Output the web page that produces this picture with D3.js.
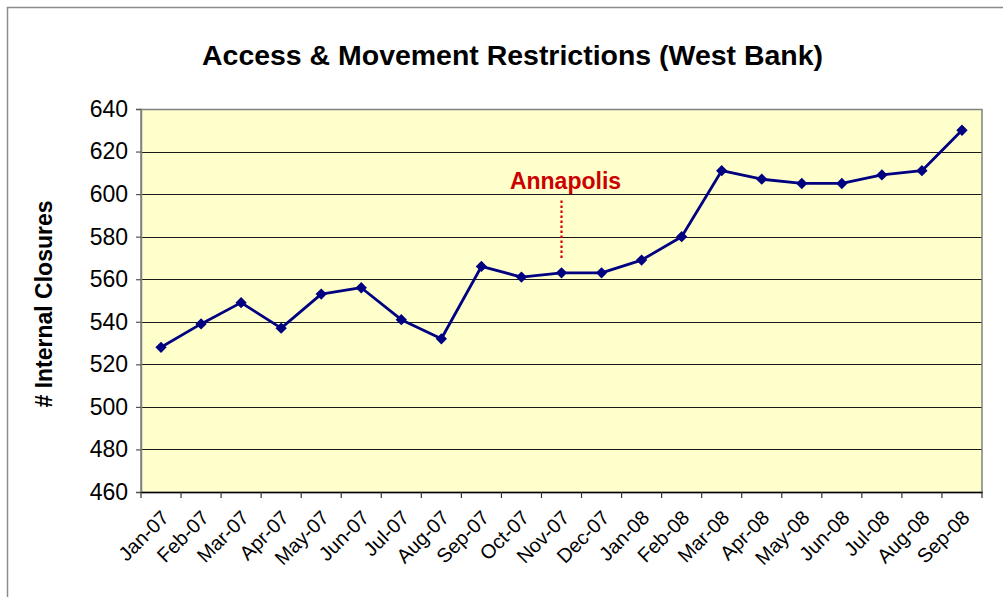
<!DOCTYPE html>
<html>
<head>
<meta charset="utf-8">
<script src="https://cdn.jsdelivr.net/npm/d3@7"></script>
<style>
  html, body { margin: 0; padding: 0; background: #fff; }
  svg { display: block; font-family: "Liberation Sans", Arial, sans-serif; }
</style>
</head>
<body>
<svg id="chart" width="1003" height="597"></svg>
<script>
const months = ["Jan-07","Feb-07","Mar-07","Apr-07","May-07","Jun-07","Jul-07","Aug-07","Sep-07","Oct-07","Nov-07","Dec-07","Jan-08","Feb-08","Mar-08","Apr-08","May-08","Jun-08","Jul-08","Aug-08","Sep-08"];
const closures = [528,539,549,537,553,556,541,532,566,561,563,563,569,580,611,607,605,605,609,611,630];
const yTicks = [460,480,500,520,540,560,580,600,620,640];
const annotationMonth = ["Nov-07"];
const annotationLabel = ["Annapolis"];
const annotationRange = [570, 597];
const annotationTextValue = [602.5];

const svg = d3.select("#chart");
const plot = {left: 141, right: 982, top: 109, bottom: 492};

// outer chart frame
svg.append("rect").attr("x", 7.5).attr("y", 7.5).attr("width", 1010).attr("height", 610)
  .attr("fill", "#fff").attr("stroke", "#8c8c8c").attr("stroke-width", 1.5);

const x = d3.scaleBand().domain(months).range([plot.left, plot.right]).paddingInner(0).paddingOuter(0);
const y = d3.scaleLinear().domain([460, 640]).range([plot.bottom, plot.top]);

// plot background
svg.append("rect").attr("x", plot.left).attr("y", plot.top)
  .attr("width", plot.right - plot.left).attr("height", plot.bottom - plot.top)
  .attr("fill", "#FFFFCC");

// gridlines
svg.append("g").selectAll("line").data(yTicks.filter(d => d > 460 && d < 640)).join("line")
  .attr("x1", plot.left).attr("x2", plot.right)
  .attr("y1", d => Math.round(y(d)) + 0.5).attr("y2", d => Math.round(y(d)) + 0.5)
  .attr("stroke", "#1a1a1a").attr("stroke-width", 1);

// plot border
svg.append("rect").attr("x", plot.left).attr("y", plot.top + 0.5)
  .attr("width", plot.right - plot.left).attr("height", plot.bottom - plot.top)
  .attr("fill", "none").attr("stroke", "#808080").attr("stroke-width", 1.5);

// y axis
const yAxis = d3.axisLeft(y).tickValues(yTicks).tickSize(5).tickPadding(8);
const gy = svg.append("g").attr("transform", `translate(${plot.left},0)`).call(yAxis);
gy.select(".domain").attr("stroke", "#808080").attr("stroke-width", 1.5);
gy.selectAll(".tick line").attr("stroke", "#555").attr("stroke-width", 1.2);
gy.selectAll(".tick text").attr("font-size", 23).attr("fill", "#000")
  .attr("font-family", "Liberation Sans, Arial, sans-serif");

// x axis
const xAxis = d3.axisBottom(x).tickSize(0).tickFormat("");
const gx = svg.append("g").attr("transform", `translate(0,${plot.bottom})`).call(xAxis);
gx.select(".domain").attr("stroke", "#000").attr("stroke-width", 1.5);
// category boundary tick marks
const bounds = months.map(m => x(m)).concat([x(months[months.length - 1]) + x.bandwidth()]);
svg.append("g").selectAll("line").data(bounds).join("line")
  .attr("x1", d => d).attr("x2", d => d)
  .attr("y1", plot.bottom).attr("y2", plot.bottom + 6)
  .attr("stroke", "#333").attr("stroke-width", 1.2);
// rotated labels
svg.append("g").selectAll("text").data(months).join("text")
  .attr("transform", d => `translate(${x(d) + x.bandwidth() / 2 + 9},${plot.bottom + 27}) rotate(-45)`)
  .attr("text-anchor", "end")
  .attr("font-size", 20)
  .attr("fill", "#000")
  .text(d => d);

// line
const line = d3.line().x((d, i) => x(months[i]) + x.bandwidth() / 2).y(d => y(d));
svg.append("path").datum(closures).attr("d", line)
  .attr("fill", "none").attr("stroke", "#000080").attr("stroke-width", 2.8)
  .attr("stroke-linejoin", "round");

// markers
const diamond = d3.symbol().type(d3.symbolSquare).size(64);
svg.append("g").selectAll("path").data(closures).join("path")
  .attr("d", diamond)
  .attr("transform", (d, i) => `translate(${x(months[i]) + x.bandwidth() / 2},${y(d)}) rotate(45)`)
  .attr("fill", "#000080");

// annotation
const ax = x(annotationMonth[0]) + x.bandwidth() / 2;
svg.append("line")
  .attr("x1", ax).attr("x2", ax)
  .attr("y1", y(annotationRange[1])).attr("y2", y(annotationRange[0]))
  .attr("stroke", "#D40000").attr("stroke-width", 2.2)
  .attr("stroke-dasharray", "2.5,2.5");
svg.append("text")
  .attr("x", ax + 4).attr("y", y(annotationTextValue[0]))
  .attr("text-anchor", "middle")
  .attr("font-size", 23).attr("font-weight", "bold").attr("fill", "#CC0000")
  .text(annotationLabel[0]);

// title
svg.append("text")
  .attr("x", 512.5).attr("y", 65)
  .attr("text-anchor", "middle")
  .attr("font-size", 27).attr("font-weight", "bold").attr("fill", "#000")
  .attr("textLength", 621).attr("lengthAdjust", "spacingAndGlyphs")
  .text("Access & Movement Restrictions (West Bank)");

// y title
svg.append("text")
  .attr("transform", "translate(52,304) rotate(-90)")
  .attr("text-anchor", "middle")
  .attr("font-size", 23).attr("font-weight", "bold").attr("fill", "#000")
  .text("# Internal Closures");
</script>
</body>
</html>
